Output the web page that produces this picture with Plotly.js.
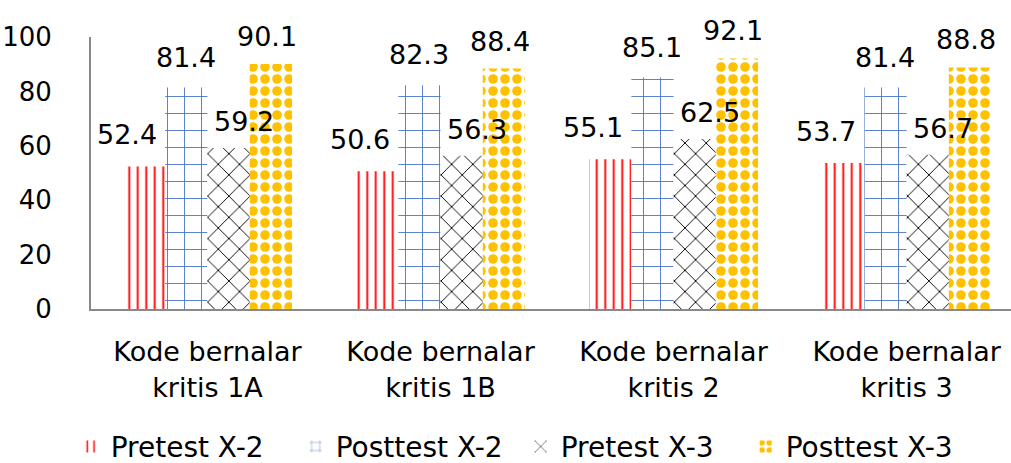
<!DOCTYPE html>
<html>
<head>
<meta charset="utf-8">
<script src="https://cdn.plot.ly/plotly-3.0.1.min.js"></script>
<style>html,body{margin:0;padding:0;background:#fff;}#chart{width:1011px;height:463px;}</style>
</head>
<body>
<div id="chart"></div>
<script>
var categories = ["Kode bernalar<br>kritis 1A", "Kode bernalar<br>kritis 1B", "Kode bernalar<br>kritis 2", "Kode bernalar<br>kritis 3"];
var seriesNames = ["Pretest X-2", "Posttest X-2", "Pretest X-3", "Posttest X-3"];
var pretestX2 = [52.4, 50.6, 55.1, 53.7];
var posttestX2 = [81.4, 82.3, 85.1, 81.4];
var pretestX3 = [59.2, 56.3, 62.5, 56.7];
var posttestX3 = [90.1, 88.4, 92.1, 88.8];
var yTicks = [0, 20, 40, 60, 80, 100];

var seriesValues = [pretestX2, posttestX2, pretestX3, posttestX3];
var patterns = [
  {shape: "|", fgcolor: "#FF0000", bgcolor: "#FFFFFF", size: 8.5, solidity: 0.22, fillmode: "replace", fgopacity: 1},
  {shape: "+", fgcolor: "#4472C4", bgcolor: "#FFFFFF", size: 17, solidity: 0.1, fillmode: "replace", fgopacity: 1},
  {shape: "x", fgcolor: "#000000", bgcolor: "#FFFFFF", size: 15, solidity: 0.12, fillmode: "replace", fgopacity: 1},
  {shape: ".", fgcolor: "#FFC000", bgcolor: "#FFFFFF", size: 12, solidity: 0.5, fillmode: "replace", fgopacity: 1}
];
var FONT = "DejaVu Sans";
var bargap = 0.275;

var traces = seriesValues.map(function (vals, j) {
  return {
    type: "bar",
    name: seriesNames[j],
    x: categories,
    y: vals,
    marker: {color: "#FFFFFF", pattern: patterns[j], line: {width: 0}},
    hoverinfo: "none"
  };
});

// data labels as annotations placed on the bars through the axis scale
var barW = (1 - bargap) / 4;
var xNudge = [-17, 0, 15, -4];
var yGap = [14, 13, 9, 10];
var annotations = [];
seriesValues.forEach(function (vals, j) {
  vals.forEach(function (v, i) {
    annotations.push({
      xref: "x", yref: "y",
      x: i + (j - 1.5) * barW,
      y: v,
      text: v.toFixed(1),
      showarrow: false,
      xanchor: "center", yanchor: "bottom",
      xshift: xNudge[j], yshift: yGap[j],
      font: {family: FONT, size: 27, color: "#000000"}
    });
  });
});

var layout = {
  width: 1011, height: 463,
  margin: {l: 91, r: 0, t: 37, b: 154},
  paper_bgcolor: "#FFFFFF", plot_bgcolor: "#FFFFFF",
  font: {family: FONT, size: 26, color: "#000000"},
  barmode: "group",
  bargap: bargap,
  bargroupgap: 0,
  showlegend: true,
  legend: {
    orientation: "h",
    xref: "container", yref: "container",
    x: 0.515, xanchor: "center",
    y: 0.035, yanchor: "middle",
    font: {family: FONT, size: 28, color: "#000000"},
    itemwidth: 30,
    entrywidth: 180,
    entrywidthmode: "pixels",
    traceorder: "normal"
  },
  xaxis: {
    type: "category",
    range: [-0.5, 3.448],
    showline: true, linecolor: "#898989", linewidth: 2,
    showgrid: false, zeroline: false, ticks: "",
    ticklabelstandoff: 18,
    tickfont: {family: FONT, size: 27, color: "#000000"},
    fixedrange: true
  },
  yaxis: {
    range: [0, 100],
    tickvals: yTicks,
    ticktext: yTicks.map(String),
    showline: true, linecolor: "#898989", linewidth: 2,
    showgrid: false, zeroline: false, ticks: "",
    ticklabelstandoff: 32,
    tickfont: {family: FONT, size: 26, color: "#000000"},
    fixedrange: true
  },
  annotations: annotations
};

Plotly.newPlot("chart", traces, layout, {displayModeBar: false, staticPlot: true});
</script>
</body>
</html>
